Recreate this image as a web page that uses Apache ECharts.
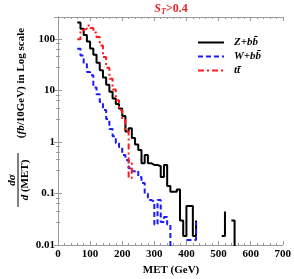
<!DOCTYPE html>
<html><head><meta charset="utf-8">
<script src="https://cdn.jsdelivr.net/npm/echarts@6/dist/echarts.min.js"></script>
<style>html,body{margin:0;padding:0;background:#fff}#c{width:294px;height:279px}</style>
</head><body><div id="c"></div><script>
// Step points (left bin edge, value); null breaks the line
const zbbX = [60,70,80,90,100,110,120,130,140,150,160,170,180,190,200,210,220,230,240,250,260,270,280,290,300,310,320,330,340,350,360,370,380,390,400,410,420,430,null,510,520,null,540,550];
const zbbY = [211,160,120,90,66,50,35,25,18,13,9.5,7,5.5,4.5,3.2,1.6,1.85,1.2,0.9,0.7,0.39,0.56,0.39,0.36,0.36,0.34,0.21,0.36,0.14,0.108,0.108,0.12,0.03,0.015,0.057,0.057,0.015,0.03,null,0.015,0.045,null,0.03,0.001];
const wbbX = [60,70,80,90,100,110,120,130,140,150,160,170,180,190,200,210,220,230,240,250,260,270,280,290,300,310,320,330,340,350,null,400,430];
const wbbY = [65,48,33,23,20,11.5,8.5,6,4.2,2.8,1.8,1.3,0.95,0.8,0.56,0.45,0.31,0.27,0.28,0.21,0.16,0.1,0.075,0.07,0.025,0.075,0.028,0.035,0.025,0.001,null,0.0125,0.028];
const ttX = [60,70,80,90,100,110,120,130,140,150,160,170,180,190,200,210,220,230];
const ttY = [100,150,160,185,165,135,110,75,45,28,17,10.5,6.5,4.2,2.7,1.6,0.2,0.45];
const seriesNames = ['Z+bb\u0304','W+bb\u0304','tt\u0304'];
const xTicks = [0,100,200,300,400,500,600,700];
const yTickLabels = ['0.01','0.1','1','10','100'];

const pts = (xs, ys) => xs.map((x,i) => x === null ? [null, '-'] : [x, ys[i]]);
const FONT = 'Liberation Serif';
const chart = echarts.init(document.getElementById('c'), null, {renderer:'canvas'});
const axisCommon = {
  axisLine:{show:true, lineStyle:{color:'#9a9a9a', width:1}},
  axisTick:{show:true, inside:true, length:4, lineStyle:{color:'#9a9a9a'}},
  minorTick:{show:true, splitNumber:5, length:2, lineStyle:{color:'#9a9a9a'}},
  splitLine:{show:false}
};
const xBase = Object.assign({type:'value', min:xTicks[0], max:xTicks[xTicks.length-1], interval:100}, axisCommon);
const yBase = Object.assign({type:'log', logBase:10, min:0.01, max:270}, axisCommon);
chart.setOption({
  animation:false,
  grid:{left:58, right:9, top:17, bottom:34, containLabel:false},
  xAxis:[
    Object.assign({}, xBase, {position:'bottom', axisLabel:{color:'#000', fontFamily:FONT, fontWeight:'bold', fontSize:11, margin:4}}),
    Object.assign({}, xBase, {position:'top', axisLabel:{show:false}})
  ],
  yAxis:[
    Object.assign({}, yBase, {position:'left', axisLabel:{color:'#000', fontFamily:FONT, fontWeight:'bold', fontSize:11, margin:3,
      showMaxLabel:false,
      formatter:function(v){const l=Math.log10(v); const r=Math.round(l); if(Math.abs(l-r)>1e-6) return ''; const idx=r+2; return yTickLabels[idx]||'';}}}),
    Object.assign({}, yBase, {position:'right', axisLabel:{show:false}})
  ],
  legend:{
    orient:'vertical', left:192, top:32, itemWidth:26, itemHeight:12, itemGap:3,
    data:seriesNames,
    itemStyle:{opacity:0},
    textStyle:{fontFamily:FONT, fontWeight:'bold', fontStyle:'italic', fontSize:11, color:'#000', padding:[0,0,0,5]}
  },
  series:[
    {name:seriesNames[0], type:'line', step:'end', showSymbol:false, symbol:'none', clip:true,
     data:pts(zbbX,zbbY), lineStyle:{color:'#000', width:2, type:'solid'}, itemStyle:{color:'#000'}},
    {name:seriesNames[1], type:'line', step:'end', showSymbol:false, symbol:'none', clip:true,
     data:pts(wbbX,wbbY), lineStyle:{color:'#1a1aff', width:2, type:[5,3]}, itemStyle:{color:'#1a1aff'}},
    {name:seriesNames[2], type:'line', step:'end', showSymbol:false, symbol:'none', clip:true,
     data:pts(ttX,ttY), lineStyle:{color:'#ff1a1a', width:2, type:[6,3,2,3]}, itemStyle:{color:'#ff1a1a'}}
  ],
  graphic:[
    {type:'text', x:171, y:9, style:{text:'{s|S}{t|T}{n|>0.4}', align:'center', verticalAlign:'middle',
      rich:{s:{fontFamily:FONT, fontWeight:'bold', fontStyle:'italic', fontSize:12, fill:'#e8262a'},
            t:{fontFamily:FONT, fontWeight:'bold', fontStyle:'italic', fontSize:8, fill:'#e8262a', padding:[6,0,0,0]},
            n:{fontFamily:FONT, fontWeight:'bold', fontSize:12, fill:'#e8262a'}}}},
    {type:'text', x:171, y:270, style:{text:'MET (GeV)', align:'center', verticalAlign:'middle', fontFamily:FONT, fontWeight:'bold', fontSize:11, fill:'#000'}},
    {type:'text', x:12, y:180, rotation:Math.PI/2, style:{text:'d\u03c3', align:'center', verticalAlign:'middle', fontFamily:FONT, fontWeight:'bold', fontStyle:'italic', fontSize:11, fill:'#000'}},
    {type:'line', shape:{x1:18, y1:153, x2:18, y2:207}, style:{stroke:'#000', lineWidth:1}},
    {type:'text', x:25, y:180, rotation:Math.PI/2, style:{text:'{i|d} (MET)', align:'center', verticalAlign:'middle', fontFamily:FONT, fontWeight:'bold', fontSize:11, fill:'#000',
      rich:{i:{fontFamily:FONT, fontWeight:'bold', fontStyle:'italic', fontSize:11, fill:'#000'}}}},
    {type:'text', x:21, y:83, rotation:Math.PI/2, style:{text:'({i|fb}/10GeV) in Log scale', align:'center', verticalAlign:'middle', fontFamily:FONT, fontWeight:'bold', fontSize:11, fill:'#000',
      rich:{i:{fontFamily:FONT, fontWeight:'bold', fontStyle:'italic', fontSize:11, fill:'#000'}}}}
  ]
});
</script></body></html>
